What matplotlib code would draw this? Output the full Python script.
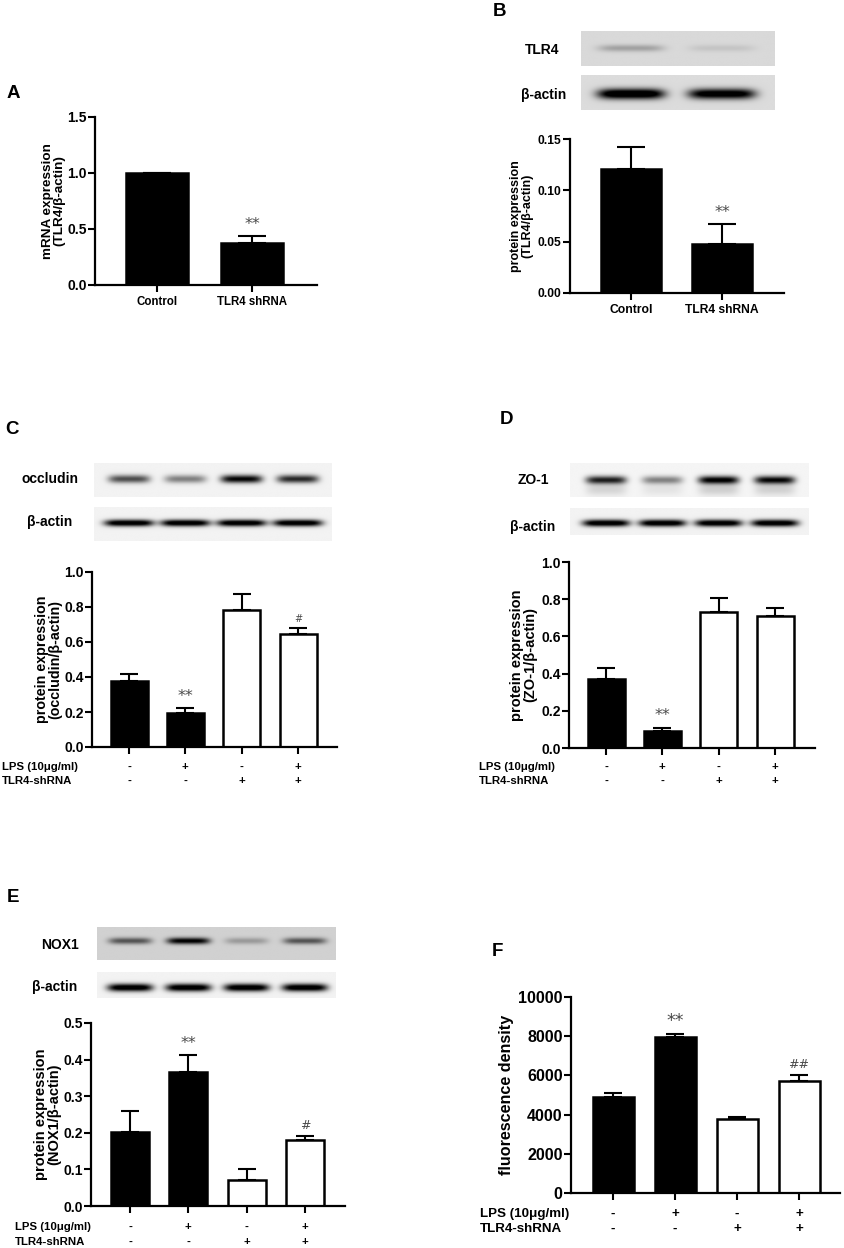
import numpy as np
import matplotlib
matplotlib.use('Agg')
import matplotlib.pyplot as plt
from matplotlib.ticker import FormatStrFormatter
from matplotlib import transforms

W, H = 844, 1248

# ---- data ----
ab_groups = ['Control', 'TLR4 shRNA']
a_mean = [1.0, 0.375]
a_sem = [0.0, 0.065]
a_marks = ['', '**']

b_mean = [0.121, 0.048]
b_sem = [0.021, 0.019]
b_marks = ['', '**']

lps = ['-', '+', '-', '+']
shrna = ['-', '-', '+', '+']
cdef_fill = ['black', 'black', 'white', 'white']

c_mean = [0.375, 0.195, 0.785, 0.645]
c_sem = [0.045, 0.027, 0.09, 0.035]
c_marks = ['', '**', '', '#']

d_mean = [0.37, 0.09, 0.73, 0.71]
d_sem = [0.062, 0.02, 0.078, 0.045]
d_marks = ['', '**', '', '']

e_mean = [0.203, 0.365, 0.07, 0.18]
e_sem = [0.057, 0.047, 0.032, 0.012]
e_marks = ['', '**', '', '#']

f_mean = [4900, 7950, 3800, 5700]
f_sem = [180, 150, 100, 330]
f_marks = ['', '**', '', '##']

# band darkness per lane (0 = none, 1 = black)
b_tlr4 = [0.22, 0.08]
b_actin = [1.1, 1.0]
c_occludin = [0.65, 0.45, 0.95, 0.8]
c_actin = [1.1, 1.1, 1.1, 1.1]
d_zo1 = [0.85, 0.45, 1.0, 0.95]
d_actin = [1.1, 1.1, 1.1, 1.1]
e_nox1 = [0.5, 0.85, 0.22, 0.5]
e_actin = [1.1, 1.1, 1.1, 1.1]

plt.rcParams['font.family'] = ['Liberation Sans', 'DejaVu Sans']
plt.rcParams['font.weight'] = 'bold'

fig = plt.figure(figsize=(W / 100, H / 100), dpi=100)


def rect(x0, x1, y0, y1):
    return [x0 / W, 1 - y1 / H, (x1 - x0) / W, (y1 - y0) / H]


def lane_lim(x0, x1, ticks):
    unit = (ticks[-1] - ticks[0]) / (len(ticks) - 1)
    return ((x0 - ticks[0]) / unit, (x1 - ticks[0]) / unit), unit


def bar_panel(box, ticks, bar_px, means, sems, fills, ymax, yticks, yfmt, fs,
              marks, mark_fs, ylabel, ylab_x, ylab_fs):
    ax = fig.add_axes(rect(*box))
    xlim, unit = lane_lim(box[0], box[1], ticks)
    x = np.arange(len(means))
    ax.bar(x, means, width=bar_px / unit, color=fills, edgecolor='black',
           linewidth=1.8, zorder=2)
    ax.errorbar(x, means, yerr=[np.zeros(len(means)), sems], fmt='none',
                ecolor='black', elinewidth=1.5, capsize=0.23 * bar_px * 0.72,
                capthick=1.5, zorder=1)
    ax.set_xlim(*xlim)
    ax.set_ylim(0, ymax)
    ax.set_yticks(yticks)
    ax.yaxis.set_major_formatter(FormatStrFormatter(yfmt))
    ax.set_xticks(x)
    ax.set_xticklabels([])
    for s in ['top', 'right']:
        ax.spines[s].set_visible(False)
    for s in ['left', 'bottom']:
        ax.spines[s].set_linewidth(1.6)
    ax.tick_params(direction='out', length=5, width=1.5, pad=1, labelsize=fs)
    for i, m in enumerate(marks):
        if m:
            ax.annotate(m, (x[i], means[i] + sems[i]), xytext=(0, 3),
                        textcoords='offset points', ha='center', va='bottom',
                        fontsize=mark_fs[i] if isinstance(mark_fs, list) else mark_fs,
                        family='DejaVu Sans', weight='normal', color='#4a4a4a')
    yc = (box[2] + box[3]) / 2
    fig.text(ylab_x / W, 1 - yc / H, ylabel, rotation=90, ha='center', va='center',
             ma='center', fontsize=ylab_fs, linespacing=0.95)
    return ax


def sign_rows(ax, labels_x, rows_y, fs):
    tr = transforms.blended_transform_factory(ax.transData, fig.transFigure)
    names = ['LPS (10μg/ml)', 'TLR4-shRNA']
    for name, signs, yy in zip(names, [lps, shrna], rows_y):
        fig.text(labels_x / W, 1 - yy / H, name, ha='left', va='center', fontsize=fs)
        for i, s in enumerate(signs):
            ax.text(i, 1 - yy / H, s, transform=tr, ha='center', va='center', fontsize=fs)


def blot(box, ticks, dark, bg, half_w, band_y, band_h, label, label_xy, extra=None):
    ax = fig.add_axes(rect(*box))
    xlim, unit = lane_lim(box[0], box[1], ticks)
    xs = np.linspace(xlim[0], xlim[1], 400)
    ys = np.linspace(0, 1, 90)
    X, Y = np.meshgrid(xs, ys)
    img = np.full(X.shape, bg)
    for i, d in enumerate(dark):
        lane = np.exp(-np.abs((X - i) / half_w) ** 5)
        img -= d * lane * np.exp(-((Y - band_y) / band_h) ** 2)
        if extra is not None:
            img -= extra[0] * d * lane * np.exp(-((Y - extra[1]) / extra[2]) ** 2)
    ax.imshow(np.clip(img, 0, 1), cmap='gray', vmin=0, vmax=1, origin='lower',
              extent=(xlim[0], xlim[1], 0, 1), aspect='auto', interpolation='bilinear')
    ax.set_xlim(*xlim)
    ax.set_ylim(0, 1)
    ax.axis('off')
    fig.text(label_xy[0] / W, 1 - label_xy[1] / H, label, ha='center', va='center', fontsize=10)


# ---- A ----
ax_a = bar_panel((95, 317, 117, 285), [157, 252], 62, a_mean, a_sem, ['black', 'black'],
                 1.5, [0, 0.5, 1.0, 1.5], '%.1f', 10, a_marks, 11.5,
                 'mRNA expression\n(TLR4/β-actin)', 54, 9.7)
ax_a.set_xticklabels(ab_groups, fontsize=8.3)
ax_a.tick_params(axis='x', pad=3)

# ---- B ----
blot((581, 775, 31, 66), [631, 722], b_tlr4, 0.85, 0.36, 0.51, 0.1, 'TLR4', (542, 50))
blot((581, 775, 75, 110), [631, 722], b_actin, 0.86, 0.37, 0.46, 0.15, 'β-actin', (544, 95))
ax_b = bar_panel((570, 784, 139, 293), [631, 722], 60, b_mean, b_sem, ['black', 'black'],
                 0.15, [0, 0.05, 0.10, 0.15], '%.2f', 8.7, b_marks, 11.5,
                 'protein expression\n(TLR4/β-actin)', 522, 9)
ax_b.set_xticklabels(ab_groups, fontsize=8.7)
ax_b.tick_params(axis='x', pad=3)

# ---- C ----
c_ticks = [129, 186, 242, 298]
blot((94, 332, 463, 497), c_ticks, c_occludin, 0.95, 0.37, 0.53, 0.12, 'occludin', (50, 479))
blot((94, 332, 507, 541), c_ticks, c_actin, 0.95, 0.44, 0.53, 0.1, 'β-actin', (50, 522))
ax_c = bar_panel((92, 337, 572, 747), c_ticks, 37, c_mean, c_sem, cdef_fill,
                 1.0, [0, 0.2, 0.4, 0.6, 0.8, 1.0], '%.1f', 10, c_marks, [11.5, 11.5, 11.5, 7],
                 'protein expression\n(occludin/β-actin)', 49, 10.3)
sign_rows(ax_c, 2, [767, 781], 8.2)

# ---- D ----
d_ticks = [606, 663, 719, 775]
blot((570, 809, 463, 497), d_ticks, d_zo1, 0.96, 0.36, 0.5, 0.12, 'ZO-1', (533, 480),
     extra=(0.15, 0.22, 0.18))
blot((570, 809, 508, 535), d_ticks, d_actin, 0.95, 0.42, 0.44, 0.13, 'β-actin', (533, 527))
ax_d = bar_panel((569, 815, 562, 748), d_ticks, 37, d_mean, d_sem, cdef_fill,
                 1.0, [0, 0.2, 0.4, 0.6, 0.8, 1.0], '%.1f', 10, d_marks, 11.5,
                 'protein expression\n(ZO-1/β-actin)', 524, 10.5)
sign_rows(ax_d, 479, [767, 781], 8.2)

# ---- E ----
e_ticks = [130, 188, 247, 305]
blot((97, 336, 927, 960), e_ticks, e_nox1, 0.82, 0.37, 0.58, 0.1, 'NOX1', (60, 945))
blot((97, 336, 972, 998), e_ticks, e_actin, 0.95, 0.39, 0.4, 0.15, 'β-actin', (55, 987))
ax_e = bar_panel((91, 345, 1023, 1206), e_ticks, 38, e_mean, e_sem, cdef_fill,
                 0.5, [0, 0.1, 0.2, 0.3, 0.4, 0.5], '%.1f', 10, e_marks, [11.5, 11.5, 11.5, 9],
                 'protein expression\n(NOX1/β-actin)', 48, 10.5)
sign_rows(ax_e, 15, [1227, 1242], 8.2)

# ---- F ----
f_ticks = [613, 675, 737, 799]
ax_f = bar_panel((571, 840, 997, 1193), f_ticks, 41, f_mean, f_sem, cdef_fill,
                 10000, [0, 2000, 4000, 6000, 8000, 10000], '%d', 11.5, f_marks,
                 [12.5, 12.5, 12.5, 9], 'fluorescence density', 507, 11.6)
sign_rows(ax_f, 480, [1214, 1229], 9.6)

# ---- panel letters ----
for letter, (lx, ly) in zip('ABCDEF', [(13, 93), (499, 12), (12, 429), (507, 419),
                                       (13, 898), (497, 952)]):
    fig.text(lx / W, 1 - ly / H, letter, ha='center', va='center', fontsize=13.5)

fig.savefig('out.png', dpi=100)
